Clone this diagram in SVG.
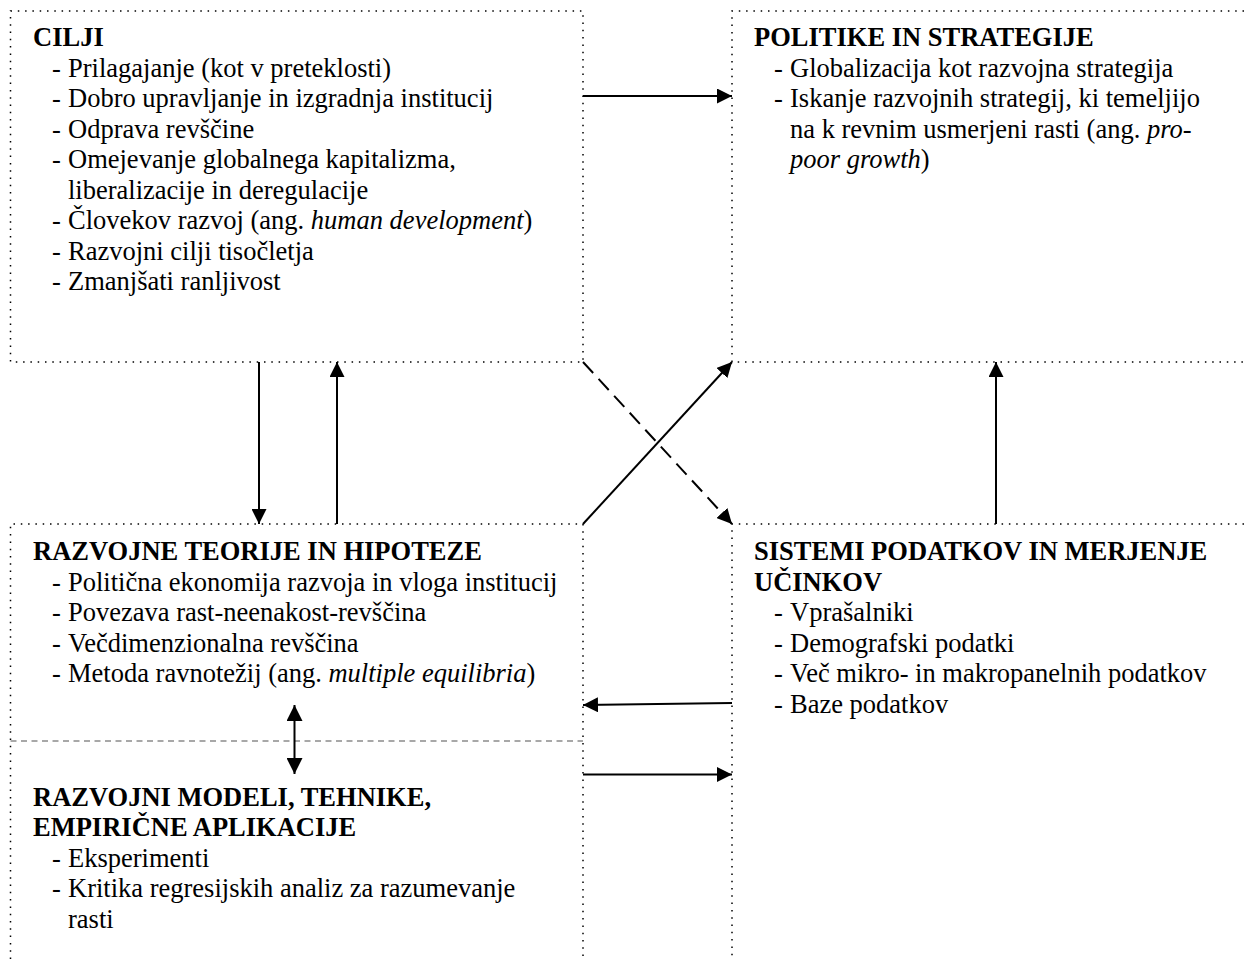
<svg xmlns="http://www.w3.org/2000/svg" width="1244" height="959" viewBox="0 0 1244 959">
  <style>
    text { font-family: "Liberation Serif", "Times New Roman", serif; font-size: 26.5px; fill: #000; }
    .h { font-weight: bold; }
    .i { font-style: italic; }
    .frame { fill: none; stroke: #000; stroke-width: 1.5; stroke-dasharray: 1.5 5.8; }
    .split { fill: none; stroke: #8c8c8c; stroke-width: 1.5; stroke-dasharray: 6 4.5; }
    .link { fill: none; stroke: #000; stroke-width: 2; }
    .dash { stroke-dasharray: 15 8; }
  </style>
  <defs>
    <marker id="head" viewBox="0 0 15 15" refX="15" refY="7.5" markerWidth="15" markerHeight="15" markerUnits="userSpaceOnUse" orient="auto-start-reverse">
      <path d="M0,0 L15,7.5 L0,15 Z" fill="#000"/>
    </marker>
    <marker id="head-lg" viewBox="0 0 16 16" refX="16" refY="8" markerWidth="16" markerHeight="16" markerUnits="userSpaceOnUse" orient="auto-start-reverse">
      <path d="M0,0 L16,8 L0,16 Z" fill="#000"/>
    </marker>
  </defs>

  <rect width="1244" height="959" fill="#fff"/>

  <!-- CILJI -->
  <g id="cilji">
    <rect class="frame" x="10.5" y="11" width="572.5" height="351"/>
    <text class="h" x="33" y="46">CILJI</text>
    <text x="52" y="76.5">-<tspan x="68">Prilagajanje (kot v preteklosti)</tspan></text>
    <text x="52" y="107">-<tspan x="68">Dobro upravljanje in izgradnja institucij</tspan></text>
    <text x="52" y="137.5">-<tspan x="68">Odprava revščine</tspan></text>
    <text x="52" y="168">-<tspan x="68">Omejevanje globalnega kapitalizma,</tspan></text>
    <text x="68" y="198.5">liberalizacije in deregulacije</text>
    <text x="52" y="229">-<tspan x="68">Človekov razvoj (ang. <tspan class="i">human development</tspan>)</tspan></text>
    <text x="52" y="259.5">-<tspan x="68">Razvojni cilji tisočletja</tspan></text>
    <text x="52" y="290">-<tspan x="68">Zmanjšati ranljivost</tspan></text>
  </g>

  <!-- POLITIKE IN STRATEGIJE -->
  <g id="politike">
    <path class="frame" d="M1244,11 H732 V362 H1244"/>
    <text class="h" x="754" y="46">POLITIKE IN STRATEGIJE</text>
    <text x="774" y="76.5">-<tspan x="790">Globalizacija kot razvojna strategija</tspan></text>
    <text x="774" y="107">-<tspan x="790">Iskanje razvojnih strategij, ki temeljijo</tspan></text>
    <text x="790" y="137.5">na k revnim usmerjeni rasti (ang. <tspan class="i">pro-</tspan></text>
    <text x="790" y="168"><tspan class="i">poor growth</tspan>)</text>
  </g>

  <!-- RAZVOJNE TEORIJE IN HIPOTEZE -->
  <g id="teorije">
    <path class="frame" d="M10.5,959 V524 H583 V959"/>
    <text class="h" x="33" y="560">RAZVOJNE TEORIJE IN HIPOTEZE</text>
    <text x="52" y="590.5">-<tspan x="68">Politična ekonomija razvoja in vloga institucij</tspan></text>
    <text x="52" y="621">-<tspan x="68">Povezava rast-neenakost-revščina</tspan></text>
    <text x="52" y="651.5">-<tspan x="68">Večdimenzionalna revščina</tspan></text>
    <text x="52" y="682">-<tspan x="68">Metoda ravnotežij (ang. <tspan class="i">multiple equilibria</tspan>)</tspan></text>
  </g>

  <!-- RAZVOJNI MODELI, below the grey divider -->
  <g id="modeli">
    <line class="split" x1="10.5" y1="741" x2="583" y2="741"/>
    <text class="h" x="33" y="805.5">RAZVOJNI MODELI, TEHNIKE,</text>
    <text class="h" x="33" y="836">EMPIRIČNE APLIKACIJE</text>
    <text x="52" y="866.5">-<tspan x="68">Eksperimenti</tspan></text>
    <text x="52" y="897">-<tspan x="68">Kritika regresijskih analiz za razumevanje</tspan></text>
    <text x="68" y="927.5">rasti</text>
  </g>

  <!-- SISTEMI PODATKOV -->
  <g id="sistemi">
    <path class="frame" d="M1244,524 H732 V959"/>
    <text class="h" x="754" y="560">SISTEMI PODATKOV IN MERJENJE</text>
    <text class="h" x="754" y="590.5">UČINKOV</text>
    <text x="774" y="621">-<tspan x="790">Vprašalniki</tspan></text>
    <text x="774" y="651.5">-<tspan x="790">Demografski podatki</tspan></text>
    <text x="774" y="682">-<tspan x="790">Več mikro- in makropanelnih podatkov</tspan></text>
    <text x="774" y="712.5">-<tspan x="790">Baze podatkov</tspan></text>
  </g>

  <!-- connectors -->
  <g id="connectors">
    <line class="link" x1="583" y1="96" x2="732" y2="96" marker-end="url(#head)"/>
    <line class="link" x1="259" y1="362" x2="259" y2="524" marker-end="url(#head)"/>
    <line class="link" x1="337" y1="524" x2="337" y2="362" marker-end="url(#head)"/>
    <line class="link dash" x1="583" y1="362" x2="732" y2="524" marker-end="url(#head)"/>
    <line class="link" x1="583" y1="524" x2="732" y2="362" marker-end="url(#head)"/>
    <line class="link" x1="996" y1="524" x2="996" y2="362" marker-end="url(#head)"/>
    <line class="link" x1="732" y1="703" x2="583" y2="705" marker-end="url(#head)"/>
    <line class="link" x1="583" y1="774.5" x2="732" y2="774.5" marker-end="url(#head)"/>
    <line class="link" x1="294.5" y1="705" x2="294.5" y2="774" marker-start="url(#head-lg)" marker-end="url(#head-lg)"/>
  </g>
</svg>
